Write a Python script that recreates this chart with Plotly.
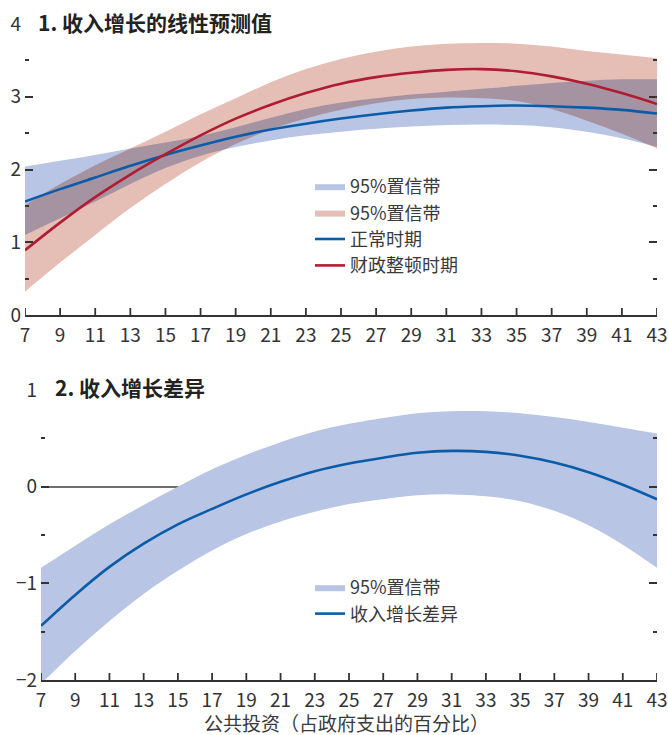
import plotly.graph_objects as go

# ---------------- data ----------------
x = [7, 9, 11, 13, 15, 17, 19, 21, 23, 25, 27, 29, 31, 33, 35, 37, 39, 41, 43]

# Panel 1: linear prediction of revenue growth
normal_line = [1.56, 1.73, 1.89, 2.05, 2.20, 2.33, 2.45, 2.55, 2.63, 2.70, 2.76, 2.81, 2.85, 2.87, 2.88, 2.87, 2.85, 2.82, 2.77]
normal_upper = [2.04, 2.12, 2.20, 2.29, 2.37, 2.46, 2.58, 2.71, 2.83, 2.92, 2.98, 3.03, 3.07, 3.11, 3.15, 3.19, 3.22, 3.24, 3.24]
normal_lower = [1.10, 1.33, 1.56, 1.80, 2.02, 2.19, 2.31, 2.40, 2.47, 2.52, 2.56, 2.59, 2.61, 2.62, 2.61, 2.58, 2.52, 2.43, 2.31]

consol_line = [0.89, 1.27, 1.62, 1.93, 2.21, 2.47, 2.70, 2.89, 3.05, 3.18, 3.27, 3.33, 3.37, 3.38, 3.35, 3.28, 3.18, 3.05, 2.90]
consol_upper = [1.51, 1.80, 2.06, 2.29, 2.52, 2.76, 2.98, 3.20, 3.38, 3.52, 3.62, 3.69, 3.73, 3.74, 3.73, 3.69, 3.63, 3.58, 3.53]
consol_lower = [0.32, 0.72, 1.10, 1.47, 1.80, 2.10, 2.35, 2.55, 2.70, 2.82, 2.91, 2.97, 2.99, 2.98, 2.94, 2.83, 2.67, 2.49, 2.29]

# Panel 2: difference in revenue growth
diff_line = [-1.44, -1.12, -0.83, -0.59, -0.39, -0.23, -0.08, 0.05, 0.16, 0.24, 0.30, 0.35, 0.37, 0.36, 0.32, 0.25, 0.15, 0.02, -0.13]
diff_upper = [-0.84, -0.61, -0.39, -0.19, 0.00, 0.18, 0.33, 0.46, 0.57, 0.65, 0.71, 0.76, 0.78, 0.78, 0.76, 0.72, 0.67, 0.61, 0.55]
diff_lower = [-2.04, -1.70, -1.39, -1.11, -0.87, -0.66, -0.49, -0.36, -0.26, -0.18, -0.13, -0.09, -0.08, -0.10, -0.15, -0.25, -0.40, -0.60, -0.84]

x_ticks = list(range(7, 44, 2))
y1_major = [0, 1, 2, 3, 4]
y1_minor = [0.5, 1.5, 2.5, 3.5]
y2_major = [-2, -1, 0, 1]
y2_minor = [-1.5, -0.5, 0.5]

title1 = "<b>1. 收入增长的线性预测值</b>"
title2 = "<b>2. 收入增长差异</b>"
x_title = "公共投资（占政府支出的百分比）"
band_name = "95%置信带"
normal_name = "正常时期"
consol_name = "财政整顿时期"
diff_name = "收入增长差异"

# ---------------- styles ----------------
BLUE_BAND = "rgb(185, 197, 228)"
RED_BAND = "rgb(229, 190, 181)"
BLUE = "#0a5ca8"
RED = "#b01c32"
TXT = "#333333"
FONT = "Liberation Sans Narrow, Arial Narrow, Noto Sans CJK SC, sans-serif"
CJK = "Liberation Sans Narrow, Noto Sans CJK SC, sans-serif"

W, H = 668, 735
TOP_Y = (24, 315)      # pixel rows of panel 1 plot area
BOT_Y = (390, 680)     # pixel rows of panel 2 plot area

fig = go.Figure()

def band(lower, upper, color, name, xa, ya, legend):
    fig.add_trace(go.Scatter(x=x, y=lower, mode="lines", line=dict(width=0, shape="spline"),
                             showlegend=False, hoverinfo="skip", xaxis=xa, yaxis=ya))
    fig.add_trace(go.Scatter(x=x, y=upper, mode="lines", line=dict(width=0, shape="spline"),
                             fill="tonexty", fillcolor=color, name=name, legend=legend,
                             hoverinfo="skip", xaxis=xa, yaxis=ya))

band(normal_lower, normal_upper, BLUE_BAND, band_name, "x", "y", "legend")
band(consol_lower, consol_upper, RED_BAND, band_name, "x", "y", "legend")
fig.add_trace(go.Scatter(x=x, y=normal_line, mode="lines", name=normal_name, legend="legend",
                         line=dict(color=BLUE, width=2.6, shape="spline"), xaxis="x", yaxis="y"))
fig.add_trace(go.Scatter(x=x, y=consol_line, mode="lines", name=consol_name, legend="legend",
                         line=dict(color=RED, width=2.6, shape="spline"), xaxis="x", yaxis="y"))

band(diff_lower, diff_upper, BLUE_BAND, band_name, "x2", "y2", "legend2")
fig.add_trace(go.Scatter(x=x, y=diff_line, mode="lines", name=diff_name, legend="legend2",
                         line=dict(color=BLUE, width=2.6, shape="spline"), xaxis="x2", yaxis="y2"))

def px_x(p):
    return p / W

def px_y(p):
    return 1 - p / H

X1_DOM = [px_x(25), px_x(657)]
X2_DOM = [px_x(41), px_x(657)]

xlab = dict(range=[7, 43], tickmode="array", tickvals=x_ticks, ticks="",
            showline=True, linecolor=TXT, linewidth=1.6,
            showgrid=False, zeroline=False, automargin=False, ticklabelstandoff=2,
            tickfont=dict(family=FONT, size=19, color=TXT))
ylab = dict(ticks="inside", ticklen=8, tickwidth=1.7, tickcolor=TXT, mirror="ticks",
            tickmode="array", showline=False, showgrid=False, automargin=False,
            tickfont=dict(family=FONT, size=19, color=TXT), ticklabelstandoff=3)
tick_common = dict(ticks="inside", tickcolor=TXT, tickmode="array", showline=False,
                   showgrid=False, zeroline=False, automargin=False, showticklabels=False,
                   layer="above traces")

# x-axis tick marks (pointing up into each panel), one per tick value
TICK_LEN = 7
shapes = []
for xa, ya, (p0, p1) in [("x", "y", TOP_Y), ("x2", "y2", BOT_Y)]:
    for t in x_ticks:
        shapes.append(dict(type="line", xref=xa, yref=ya + " domain", x0=t, x1=t,
                           y0=0, y1=TICK_LEN / (p1 - p0), layer="above",
                           line=dict(color=TXT, width=1.8)))

fig.update_layout(
    width=W, height=H,
    margin=dict(l=0, r=0, t=0, b=0),
    paper_bgcolor="white", plot_bgcolor="white",
    font=dict(family=CJK, color=TXT),
    xaxis=dict(domain=X1_DOM, anchor="y", **xlab),
    yaxis=dict(domain=[px_y(TOP_Y[1]), px_y(TOP_Y[0])], anchor="x", range=[0, 4], zeroline=False,
               tickvals=y1_major, **ylab),
    xaxis2=dict(domain=X2_DOM, anchor="y2", **xlab),
    yaxis2=dict(domain=[px_y(BOT_Y[1]), px_y(BOT_Y[0])], anchor="x2", range=[-2, 1], zeroline=True,
                zerolinecolor="#6e6e6e", zerolinewidth=1.5, tickvals=y2_major, **ylab),
    yaxis3=dict(overlaying="y", anchor="x", range=[0, 4], tickvals=y1_minor, ticklen=4,
                tickwidth=1.5, mirror="ticks", **tick_common),
    yaxis4=dict(overlaying="y2", anchor="x2", range=[-2, 1], tickvals=y2_minor, ticklen=4,
                tickwidth=1.5, mirror="ticks", **tick_common),
    shapes=shapes,
    legend=dict(x=px_x(310), y=px_y(168), xanchor="left", yanchor="top", traceorder="normal",
                bgcolor="rgba(0,0,0,0)", font=dict(family=CJK, size=18, color="#3a3a3a"),
                tracegroupgap=0),
    legend2=dict(x=px_x(310), y=px_y(569), xanchor="left", yanchor="top", traceorder="normal",
                 bgcolor="rgba(0,0,0,0)", font=dict(family=CJK, size=18, color="#3a3a3a"),
                 tracegroupgap=0),
    annotations=[
        dict(text=title1, x=px_x(36), y=px_y(22), xref="paper", yref="paper", xanchor="left",
             yanchor="middle", showarrow=False, font=dict(family=CJK, size=21, color="#222")),
        dict(text=title2, x=px_x(53), y=px_y(387), xref="paper", yref="paper", xanchor="left",
             yanchor="middle", showarrow=False, font=dict(family=CJK, size=21, color="#222")),
        dict(text=x_title, x=px_x(346), y=px_y(722), xref="paper", yref="paper", xanchor="center",
             yanchor="middle", showarrow=False, font=dict(family=CJK, size=19, color="#3a3a3a")),
    ],
)

for xa, ya, yv in [("x", "y3", y1_minor), ("x2", "y4", y2_minor)]:
    fig.add_trace(go.Scatter(x=[x[0]], y=[yv[0]], mode="markers", marker=dict(opacity=0),
                             showlegend=False, hoverinfo="skip", xaxis=xa, yaxis=ya))

post = """
document.body.style.margin = '0';
document.body.style.padding = '0';
var gd = document.getElementById('{plot_id}');
function blendBands(){
  document.querySelectorAll('.scatterlayer path.js-fill').forEach(function(p){
    if (p.style.fill === 'rgb(229, 190, 181)') { p.style.mixBlendMode = 'multiply'; }
  });
}
blendBands();
gd.on('plotly_afterplot', blendBands);
"""

fig.write_html("out.html", post_script=post, config={"displayModeBar": False})
